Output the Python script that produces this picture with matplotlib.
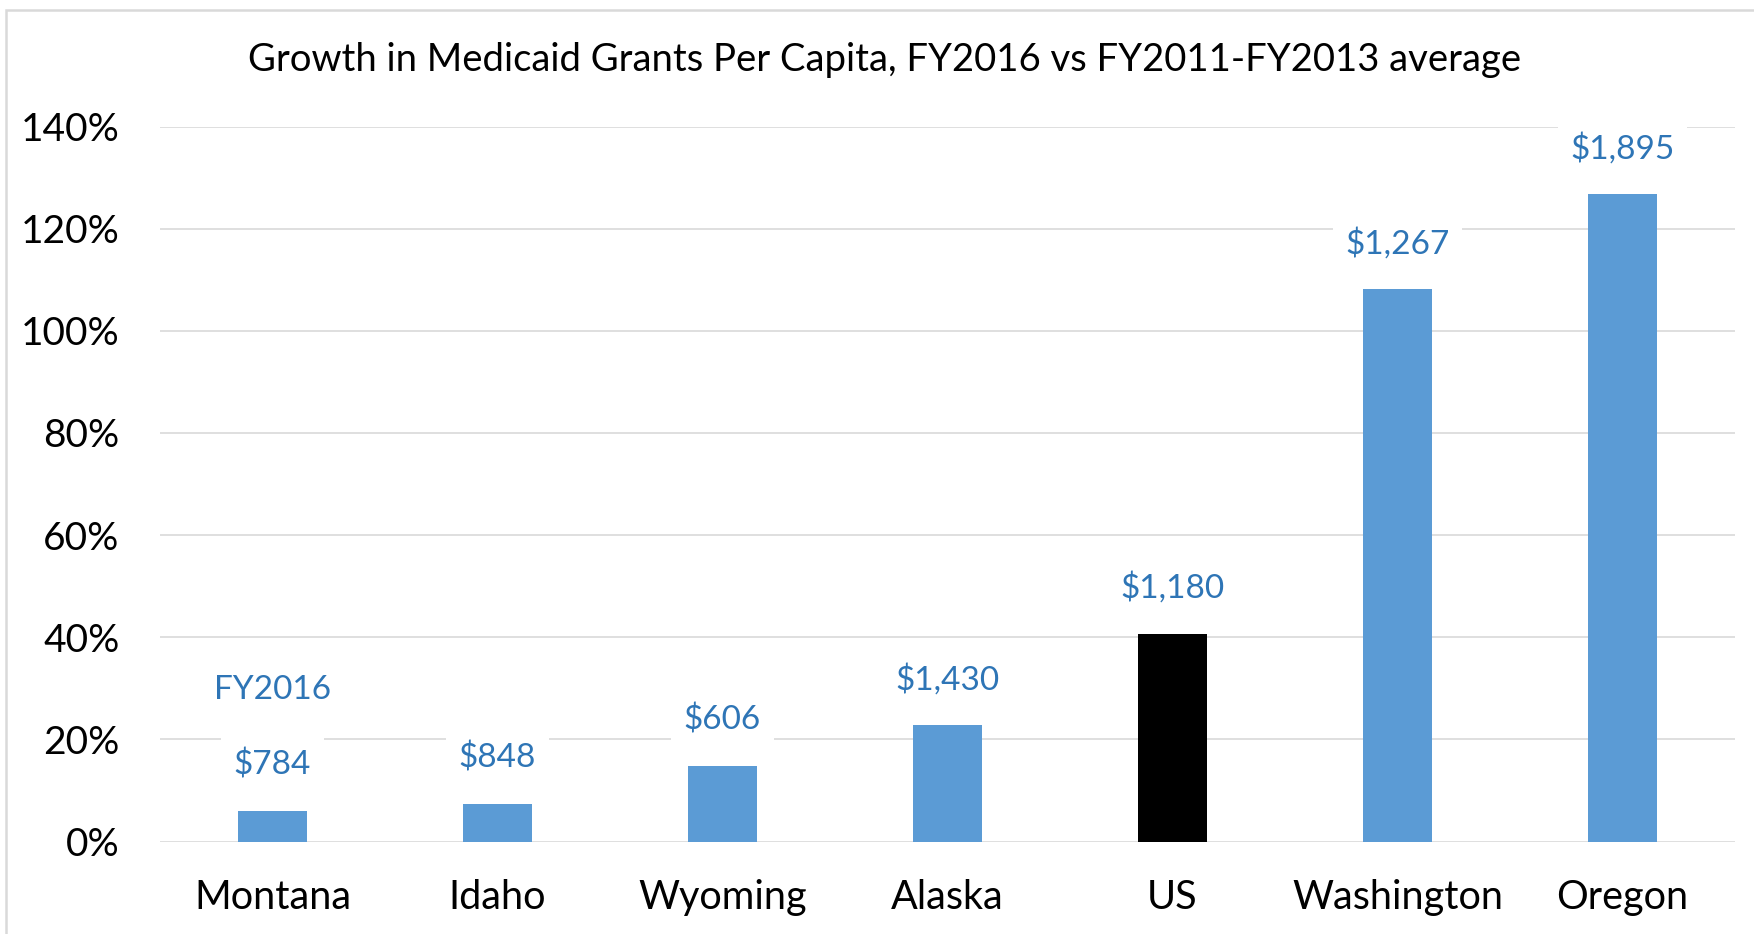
import matplotlib.pyplot as plt
from matplotlib.patches import Rectangle

states = ["Montana", "Idaho", "Wyoming", "Alaska", "US", "Washington", "Oregon"]
growth = [6.0, 7.3, 14.8, 22.8, 40.7, 108.2, 126.7]
grants_2016 = ["$784", "$848", "$606", "$1,430", "$1,180", "$1,267", "$1,895"]
yticks = [0, 20, 40, 60, 80, 100, 120, 140]

blue = "#5B9BD5"
label_blue = "#2E75B6"
grid_grey = "#D9D9D9"

plt.rcParams["font.family"] = ["Lato", "DejaVu Sans"]

fig = plt.figure(figsize=(17.54, 9.34), dpi=100)
ax = fig.add_axes([160 / 1754, 92.5 / 934, 1575 / 1754, 715 / 934])

colors = ["black" if s == "US" else blue for s in states]
x = range(len(states))
bars = ax.bar(x, growth, width=0.31, color=colors, zorder=3)

for bar, lab in zip(bars, grants_2016):
    ax.annotate(lab, (bar.get_x() + bar.get_width() / 2, bar.get_height()),
                xytext=(0, 33), textcoords="offset points",
                ha="center", va="center", fontsize=24, color=label_blue,
                bbox=dict(facecolor="white", edgecolor="none", pad=9), zorder=4)

# series name shown above the first label
first = bars[0]
ax.annotate("FY2016", (first.get_x() + first.get_width() / 2, first.get_height()),
            xytext=(0, 87), textcoords="offset points",
            ha="center", va="center", fontsize=24, color=label_blue,
            bbox=dict(facecolor="white", edgecolor="none", pad=9), zorder=4)

ax.set_ylim(0, 140)
ax.set_xlim(-0.5, len(states) - 0.5)
ax.set_yticks(yticks)
ax.set_yticklabels([f"{v}%" for v in yticks])
ax.set_xticks(list(x))
ax.set_xticklabels(states)
ax.tick_params(axis="y", length=0, pad=29, labelsize=28)
ax.tick_params(axis="x", length=0, pad=27, labelsize=28.5)
ax.grid(axis="y", color=grid_grey, linewidth=1.2, zorder=0)
ax.set_axisbelow(True)
for s in ax.spines.values():
    s.set_visible(False)

fig.text(885 / 1754, 1 - 60 / 934,
         "Growth in Medicaid Grants Per Capita, FY2016 vs FY2011-FY2013 average",
         ha="center", va="center", fontsize=27.5)

# chart frame, cut off at right and bottom
fig.patches.append(Rectangle((6 / 1754, -0.1), 1.2, 1 - 10 / 934 + 0.1,
                             transform=fig.transFigure, fill=False,
                             edgecolor=grid_grey, linewidth=1.8))

fig.savefig("out.png", dpi=100)
